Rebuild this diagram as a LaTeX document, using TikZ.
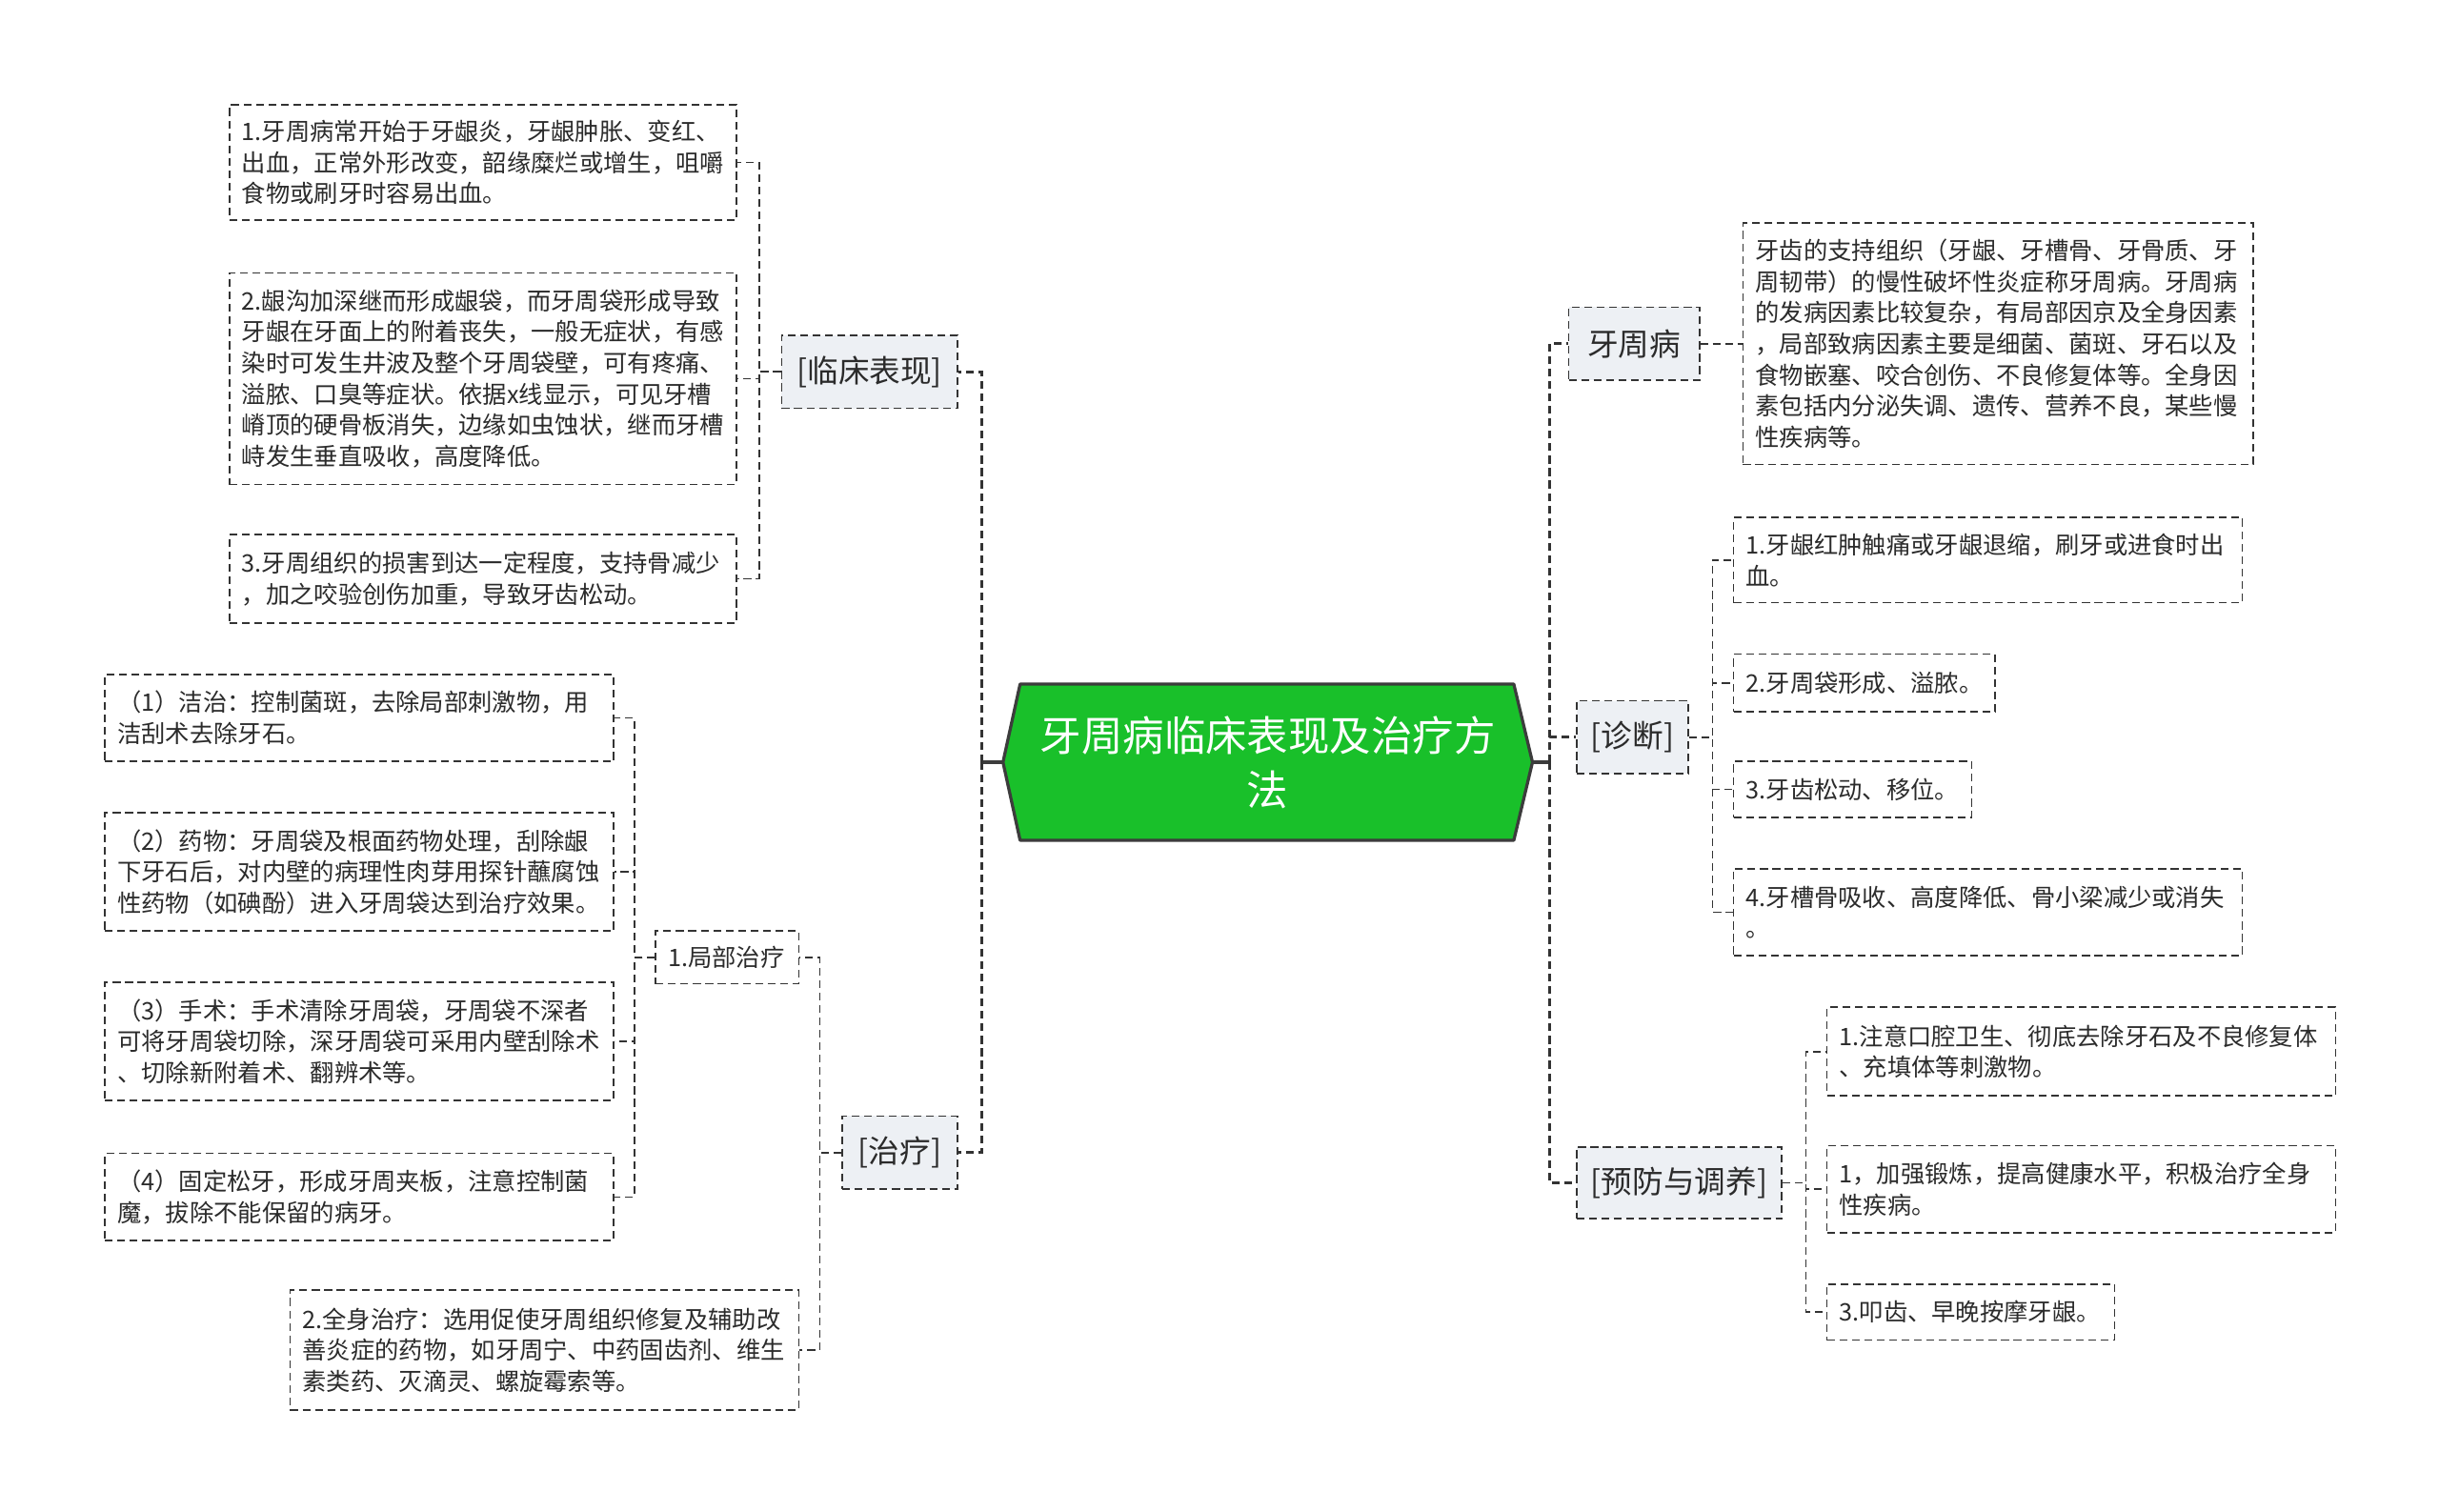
\documentclass[tikz,border=0pt]{standalone}
\usepackage{fontspec}
\setmainfont{Noto Sans CJK SC}
\usetikzlibrary{calc}
\definecolor{linec}{HTML}{333333}
\definecolor{textc}{HTML}{2B2B2B}
\definecolor{topicfill}{HTML}{EDF0F4}
\definecolor{rootfill}{HTML}{19C02A}
\definecolor{rootborder}{HTML}{3C3C3C}
\newcommand\leaffont{\fontsize{15.5}{20}\selectfont}
\newcommand\topicfont{\fontsize{20}{24}\selectfont}
\newcommand\rootfont{\fontsize{26.6}{35}\selectfont}
\tikzset{
  dashpat/.style={dash pattern=on 5pt off 3pt},
  leafbox/.style={draw=linec, line width=1pt, dashpat, fill=white, text=textc,
    align=left, inner xsep=8pt, inner ysep=2pt, font=\leaffont, anchor=north west},
  topicbox/.style={draw=linec, line width=1pt, dashpat, fill=topicfill, text=textc,
    inner sep=0pt, font=\topicfont, anchor=north west},
  conn/.style={draw=linec, line width=1pt, dashpat},
  busline/.style={draw=linec, line width=1.8pt, dashpat},
  rootline/.style={draw=rootborder, line width=2pt},
}
\begin{document}
\begin{tikzpicture}[x=1pt,y=-1pt]
\useasboundingbox[fill=white] (0,0) rectangle (1568,972);

% ---- root ----
\node[minimum width=340pt, minimum height=100pt, inner sep=0pt] (root) at (815,490) {};
\filldraw[fill=rootfill, draw=rootborder, line width=2pt, line join=round]
  (root.west) -- ([xshift=11pt]root.north west) -- ([xshift=-12pt]root.north east)
  -- (root.east) -- ([xshift=-12pt]root.south east) -- ([xshift=11pt]root.south west) -- cycle;
\node[text=white, font=\rootfont, align=center] (roottext) at (root) {牙周病临床表现及治疗方\\法};
\coordinate (lbus) at (631,490);
\coordinate (rbus) at (996,490);

% ---- left topics ----
\node[topicbox, minimum width=113pt, minimum height=47pt] (clin) at (502,215) {[临床表现]};
\node[topicbox, minimum width=74pt, minimum height=47pt] (treat) at (541,717) {[治疗]};

\node[leafbox, text width=310pt, minimum height=74pt] (l1) at (147,67)
 {1.牙周病常开始于牙龈炎，牙龈肿胀、变红、\\出血，正常外形改变，韶缘糜烂或增生，咀嚼\\食物或刷牙时容易出血。};
\node[leafbox, text width=310pt, minimum height=136pt] (l2) at (147,175)
 {2.龈沟加深继而形成龈袋，而牙周袋形成导致\\牙龈在牙面上的附着丧失，一般无症状，有感\\染时可发生井波及整个牙周袋壁，可有疼痛、\\溢脓、口臭等症状。依据x线显示，可见牙槽\\嵴顶的硬骨板消失，边缘如虫蚀状，继而牙槽\\峙发生垂直吸收，高度降低。};
\node[leafbox, text width=310pt, minimum height=57pt] (l3) at (147,343)
 {3.牙周组织的损害到达一定程度，支持骨减少\\，加之咬验创伤加重，导致牙齿松动。};

\node[leafbox, text width=76pt, minimum height=34pt] (loc) at (421,598) {1.局部治疗};
\node[leafbox, text width=311pt, minimum height=56pt] (t1) at (67,433)
 {（1）洁治：控制菌斑，去除局部刺激物，用\\洁刮术去除牙石。};
\node[leafbox, text width=311pt, minimum height=76pt] (t2) at (67,522)
 {（2）药物：牙周袋及根面药物处理，刮除龈\\下牙石后，对内壁的病理性肉芽用探针蘸腐蚀\\性药物（如碘酚）进入牙周袋达到治疗效果。};
\node[leafbox, text width=311pt, minimum height=76pt] (t3) at (67,631)
 {（3）手术：手术清除牙周袋，牙周袋不深者\\可将牙周袋切除，深牙周袋可采用内壁刮除术\\、切除新附着术、翻辨术等。};
\node[leafbox, text width=311pt, minimum height=56pt] (t4) at (67,741)
 {（4）固定松牙，形成牙周夹板，注意控制菌\\魔，拔除不能保留的病牙。};
\node[leafbox, text width=311pt, minimum height=77pt] (sys) at (186,829)
 {2.全身治疗：选用促使牙周组织修复及辅助改\\善炎症的药物，如牙周宁、中药固齿剂、维生\\素类药、灭滴灵、螺旋霉索等。};

% ---- right topics ----
\node[topicbox, minimum width=84pt, minimum height=47pt] (yzb) at (1008,197) {牙周病};
\node[topicbox, minimum width=72pt, minimum height=47pt] (diag) at (1013,450) {[诊断]};
\node[topicbox, minimum width=132pt, minimum height=46pt] (prev) at (1013,737) {[预防与调养]};

\node[leafbox, text width=312pt, minimum height=155pt] (desc) at (1120,143)
 {牙齿的支持组织（牙龈、牙槽骨、牙骨质、牙\\周韧带）的慢性破坏性炎症称牙周病。牙周病\\的发病因素比较复杂，有局部因京及全身因素\\，局部致病因素主要是细菌、菌斑、牙石以及\\食物嵌塞、咬合创伤、不良修复体等。全身因\\素包括内分泌失调、遗传、营养不良，某些慢\\性疾病等。};

\node[leafbox, text width=311pt, minimum height=55pt] (d1) at (1114,332)
 {1.牙龈红肿触痛或牙龈退缩，刷牙或进食时出\\血。};
\node[leafbox, text width=152pt, minimum height=37pt] (d2) at (1114,420) {2.牙周袋形成、溢脓。};
\node[leafbox, text width=137pt, minimum height=36pt] (d3) at (1114,489) {3.牙齿松动、移位。};
\node[leafbox, text width=311pt, minimum height=56pt] (d4) at (1114,558)
 {4.牙槽骨吸收、高度降低、骨小梁减少或消失\\。};

\node[leafbox, text width=311pt, minimum height=57pt] (p1) at (1174,647)
 {1.注意口腔卫生、彻底去除牙石及不良修复体\\、充填体等刺激物。};
\node[leafbox, text width=311pt, minimum height=56pt] (p2) at (1174,736)
 {1，加强锻炼，提高健康水平，积极治疗全身\\性疾病。};
\node[leafbox, text width=169pt, minimum height=36pt] (p3) at (1174,825) {3.叩齿、早晚按摩牙龈。};

% ---- connectors: root ----
\draw[rootline] (root.west) -- (lbus);
\draw[rootline] (root.east) -- (rbus);
\draw[busline] (lbus) |- (clin.east);
\draw[busline] (lbus) |- (treat.east);
\draw[busline] (rbus) |- (yzb.west);
\draw[busline] (rbus) |- (diag.west);
\draw[busline] (rbus) |- (prev.west);

% ---- connectors: left ----
\draw[conn] (clin.west) -- ++(-14,0) |- (l1.east);
\draw[conn] (clin.west) -- ++(-14,0) |- (l2.east);
\draw[conn] (clin.west) -- ++(-14,0) |- (l3.east);
\draw[conn] (treat.west) -- ++(-14,0) |- (loc.east);
\draw[conn] (treat.west) -- ++(-14,0) |- (sys.east);
\draw[conn] (loc.west) -- ++(-13,0) |- (t1.east);
\draw[conn] (loc.west) -- ++(-13,0) |- (t2.east);
\draw[conn] (loc.west) -- ++(-13,0) |- (t3.east);
\draw[conn] (loc.west) -- ++(-13,0) |- (t4.east);

% ---- connectors: right ----
\draw[conn] (yzb.east) -- (desc.west);
\draw[conn] (diag.east) -- ++(15,0) |- (d1.west);
\draw[conn] (diag.east) -- ++(15,0) |- (d2.west);
\draw[conn] (diag.east) -- ++(15,0) |- (d3.west);
\draw[conn] (diag.east) -- ++(15,0) |- (d4.west);
\draw[conn] (prev.east) -- ++(15,0) |- (p1.west);
\draw[conn] (prev.east) -- ++(15,0) |- (p2.west);
\draw[conn] (prev.east) -- ++(15,0) |- (p3.west);
\end{tikzpicture}
\end{document}
